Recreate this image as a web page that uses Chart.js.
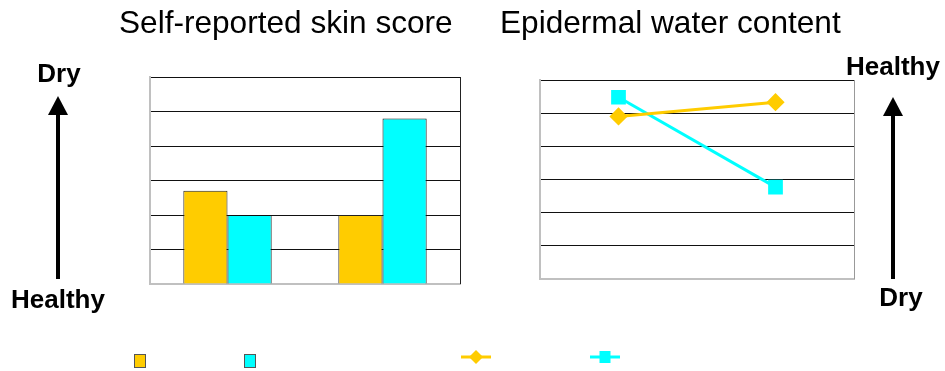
<!DOCTYPE html>
<html>
<head>
<meta charset="utf-8">
<script src="https://cdn.jsdelivr.net/npm/chart.js"></script>
<style>
  body { margin: 0; background: #fff; }
  #wrap { position: relative; width: 945px; height: 371px; overflow: hidden; font-family: "Liberation Sans", Arial, sans-serif; }
  #wrap canvas { position: absolute; left: 0; top: 0; }
  .title { position: absolute; font-size: 31.6px; line-height: 31.6px; white-space: nowrap; color: #000; }
  .tag { position: absolute; width: 120px; text-align: center; font-size: 26px; line-height: 26px; font-weight: bold; white-space: nowrap; color: #000; }
</style>
</head>
<body>
<div id="wrap">
  <canvas id="skinChart" width="945" height="371"></canvas>
  <canvas id="waterChart" width="945" height="371"></canvas>
  <div class="title" style="left:119px; top:7px;">Self-reported skin score</div>
  <div class="title" style="left:500px; top:7px;">Epidermal water content</div>
  <div class="tag" style="left:-1px; top:60px;">Dry</div>
  <div class="tag" style="left:-2px; top:286px;">Healthy</div>
  <div class="tag" style="left:833px; top:53px;">Healthy</div>
  <div class="tag" style="left:841px; top:284px;">Dry</div>
</div>
<script>
const groups = ['A', 'B'];
const yTicks = [0, 1, 2, 3, 4, 5, 6];

// self-reported score (higher = drier)
const skinSeries1 = [2.7, 2.0];
const skinSeries2 = [2.0, 4.8];

// water content (higher = healthier)
const waterSeries1 = [4.9, 5.33];
const waterSeries2 = [5.48, 2.77];

const ORANGE = '#ffcc00';
const CYAN = '#00ffff';

// vertical arrow beside a plot
const sideArrow = {
  id: 'sideArrow',
  afterDraw(chart, args, opts) {
    const ctx = chart.ctx;
    ctx.save();
    ctx.fillStyle = '#000';
    ctx.strokeStyle = '#000';
    ctx.lineWidth = 4;
    ctx.beginPath();
    ctx.moveTo(opts.x, opts.bottom);
    ctx.lineTo(opts.x, opts.top + 16);
    ctx.stroke();
    ctx.beginPath();
    ctx.moveTo(opts.x, opts.top);
    ctx.lineTo(opts.x - 10, opts.top + 19);
    ctx.lineTo(opts.x + 10, opts.top + 19);
    ctx.closePath();
    ctx.fill();
    ctx.restore();
  }
};

// right-hand frame line plus unlabeled legend keys
const frameAndKeys = {
  id: 'frameAndKeys',
  afterDraw(chart, args, opts) {
    const ctx = chart.ctx;
    const a = chart.chartArea;
    ctx.save();
    ctx.strokeStyle = opts.frameColor;
    ctx.lineWidth = 1;
    ctx.beginPath();
    ctx.moveTo(Math.round(a.right) + 0.5, a.top);
    ctx.lineTo(Math.round(a.right) + 0.5, a.bottom);
    ctx.stroke();

    chart.data.datasets.forEach((ds, i) => {
      const x = opts.keyX[i];
      const y = opts.keyY;
      if (chart.config.type === 'bar') {
        ctx.fillStyle = ds.backgroundColor;
        ctx.fillRect(x - 6, y - 7, 12, 14);
        ctx.strokeStyle = '#555';
        ctx.strokeRect(x - 5.5, y - 6.5, 11, 13);
      } else {
        ctx.strokeStyle = ds.borderColor;
        ctx.lineWidth = 3;
        ctx.beginPath();
        ctx.moveTo(x - 15, y);
        ctx.lineTo(x + 15, y);
        ctx.stroke();
        ctx.fillStyle = ds.pointBackgroundColor;
        ctx.beginPath();
        if (ds.pointStyle === 'rectRot') {
          ctx.moveTo(x, y - 7);
          ctx.lineTo(x + 7, y);
          ctx.lineTo(x, y + 7);
          ctx.lineTo(x - 7, y);
          ctx.closePath();
          ctx.fill();
        } else {
          ctx.fillRect(x - 5.5, y - 6, 11, 12);
        }
      }
    });
    ctx.restore();
  }
};

function yScale(gridColor) {
  return {
    min: 0,
    max: 6,
    afterBuildTicks: s => { s.ticks = yTicks.map(v => ({ value: v })); },
    ticks: { display: false },
    grid: {
      drawTicks: false,
      color: c => (c.tick && c.tick.value === 0) ? 'rgba(0,0,0,0)' : gridColor
    },
    border: { color: '#c0c0c0', width: 2 }
  };
}

const xScale = offset => ({
  offset,
  ticks: { display: false },
  grid: { display: false, drawTicks: false },
  border: { color: '#c0c0c0', width: 2 }
});

new Chart(document.getElementById('skinChart'), {
  type: 'bar',
  data: {
    labels: groups,
    datasets: [
      { data: skinSeries1, backgroundColor: ORANGE, borderColor: '#222', borderWidth: 1 },
      { data: skinSeries2, backgroundColor: CYAN, borderColor: '#111', borderWidth: 1 }
    ]
  },
  options: {
    responsive: false,
    animation: false,
    categoryPercentage: 0.57,
    barPercentage: 1.0,
    layout: { padding: { left: 150, right: 485, top: 77, bottom: 87 } },
    plugins: {
      legend: { display: false },
      tooltip: { enabled: false },
      sideArrow: { x: 58, top: 96, bottom: 279 },
      frameAndKeys: { frameColor: '#222', keyX: [140, 250], keyY: 361 }
    },
    scales: { x: xScale(true), y: yScale('#111') }
  },
  plugins: [sideArrow, frameAndKeys]
});

new Chart(document.getElementById('waterChart'), {
  type: 'line',
  data: {
    labels: groups,
    datasets: [
      {
        data: waterSeries1, borderColor: ORANGE, borderWidth: 3,
        pointStyle: 'rectRot', pointRadius: 7,
        pointBackgroundColor: ORANGE, pointBorderColor: ORANGE
      },
      {
        data: waterSeries2, borderColor: CYAN, borderWidth: 3,
        pointStyle: 'rect', pointRadius: 8.3,
        pointBackgroundColor: CYAN, pointBorderColor: CYAN
      }
    ]
  },
  options: {
    responsive: false,
    animation: false,
    layout: { padding: { left: 540, right: 91, top: 80, bottom: 92 } },
    plugins: {
      legend: { display: false },
      tooltip: { enabled: false },
      sideArrow: { x: 893, top: 97, bottom: 279 },
      frameAndKeys: { frameColor: '#999', keyX: [476, 605], keyY: 357 }
    },
    scales: { x: xScale(true), y: yScale('#111') }
  },
  plugins: [sideArrow, frameAndKeys]
});
</script>
</body>
</html>
